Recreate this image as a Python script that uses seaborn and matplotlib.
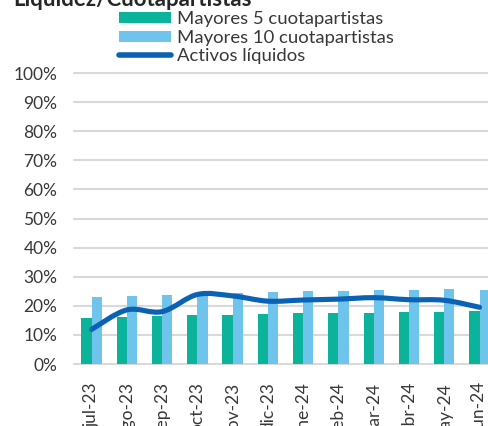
import numpy as np
import pandas as pd
import seaborn as sns
import matplotlib.pyplot as plt
from matplotlib.path import Path
from matplotlib.patches import Patch, PathPatch
from matplotlib.lines import Line2D

meses = ['jul-23', 'ago-23', 'sep-23', 'oct-23', 'nov-23', 'dic-23',
         'ene-24', 'feb-24', 'mar-24', 'abr-24', 'may-24', 'jun-24']
mayores_5 = [15.8, 16.3, 16.4, 16.7, 16.8, 17.2, 17.4, 17.4, 17.6, 17.8, 17.9, 18.3]
mayores_10 = [23.1, 23.5, 23.8, 24.0, 24.4, 24.9, 25.1, 25.2, 25.3, 25.4, 25.8, 25.4]
activos_liq = [11.9, 18.6, 18.0, 23.9, 23.4, 21.6, 22.0, 22.3, 22.8, 22.1, 21.9, 19.5]

verde = '#0bb39a'
celeste = '#6ec4ea'
azul = '#0b62b4'
gris_txt = '#383838'

sns.set_theme(style='white')
plt.rcParams['font.family'] = ['Lato', 'DejaVu Sans']

df = pd.DataFrame({
    'mes': meses * 2,
    'serie': ['Mayores 5 cuotapartistas'] * 12 + ['Mayores 10 cuotapartistas'] * 12,
    'valor': [v / 100 for v in mayores_5 + mayores_10],
})

fig = plt.figure(figsize=(4.89, 4.26), dpi=100)
ax = fig.add_axes([0.1513, 0.1455, 0.8654, 0.6831])

sns.barplot(data=df, x='mes', y='valor', hue='serie', order=meses,
            palette=[verde, celeste], saturation=1, width=0.58, ax=ax,
            legend=False, linewidth=0)

# curva suavizada (estilo excel) a traves de los puntos
x = np.arange(len(meses))
y = np.array(activos_liq) / 100
verts = [(x[0], y[0])]
codes = [Path.MOVETO]
for i in range(len(x) - 1):
    p0 = (x[max(i - 1, 0)], y[max(i - 1, 0)])
    p1 = (x[i], y[i])
    p2 = (x[i + 1], y[i + 1])
    p3 = (x[min(i + 2, len(x) - 1)], y[min(i + 2, len(x) - 1)])
    c1 = (p1[0] + (p2[0] - p0[0]) / 6, p1[1] + (p2[1] - p0[1]) / 6)
    c2 = (p2[0] - (p3[0] - p1[0]) / 6, p2[1] - (p3[1] - p1[1]) / 6)
    verts += [c1, c2, p2]
    codes += [Path.CURVE4] * 3
ax.add_patch(PathPatch(Path(verts, codes), facecolor='none', edgecolor=azul,
                       lw=3.7, capstyle='round', joinstyle='round', zorder=5))

ax.set_xlim(-0.5, len(meses) - 0.5)
ax.set_ylim(0, 1)
ax.set_yticks(np.arange(0, 1.01, 0.1))
ax.set_yticklabels([f'{int(round(t * 100))}%' for t in np.arange(0, 1.01, 0.1)])
ax.set_xlabel('')
ax.set_ylabel('')
ax.grid(axis='y', color='#d9d9d9', lw=1.5)
ax.set_axisbelow(True)
for gl in ax.get_ygridlines():
    gl.set_clip_on(False)
for s in ax.spines.values():
    s.set_visible(False)
ax.tick_params(axis='y', length=0, pad=12, labelsize=12.5, labelcolor=gris_txt)
ax.tick_params(axis='x', length=0, pad=13, labelsize=12.5, labelcolor=gris_txt,
               rotation=90)

handles = [Patch(facecolor=verde, edgecolor='none'),
           Patch(facecolor=celeste, edgecolor='none'),
           Line2D([], [], color=azul, lw=4, solid_capstyle='round')]
labels = ['Mayores 5 cuotapartistas', 'Mayores 10 cuotapartistas', 'Activos líquidos']
leg = fig.legend(handles, labels, loc='upper left', bbox_to_anchor=(0.236, 0.983),
                 frameon=False, fontsize=13.3, handlelength=2.8, handleheight=0.55,
                 handletextpad=0.32, labelspacing=0.15, borderpad=0.2,
                 borderaxespad=0)
for t in leg.get_texts():
    t.set_color(gris_txt)

fig.text(0.027, 1 - 5.5 / 426, 'Liquidez/Cuotapartistas', fontsize=16,
         fontweight='bold', color='#262626', va='baseline', ha='left')

fig.savefig('out.png', dpi=100)
